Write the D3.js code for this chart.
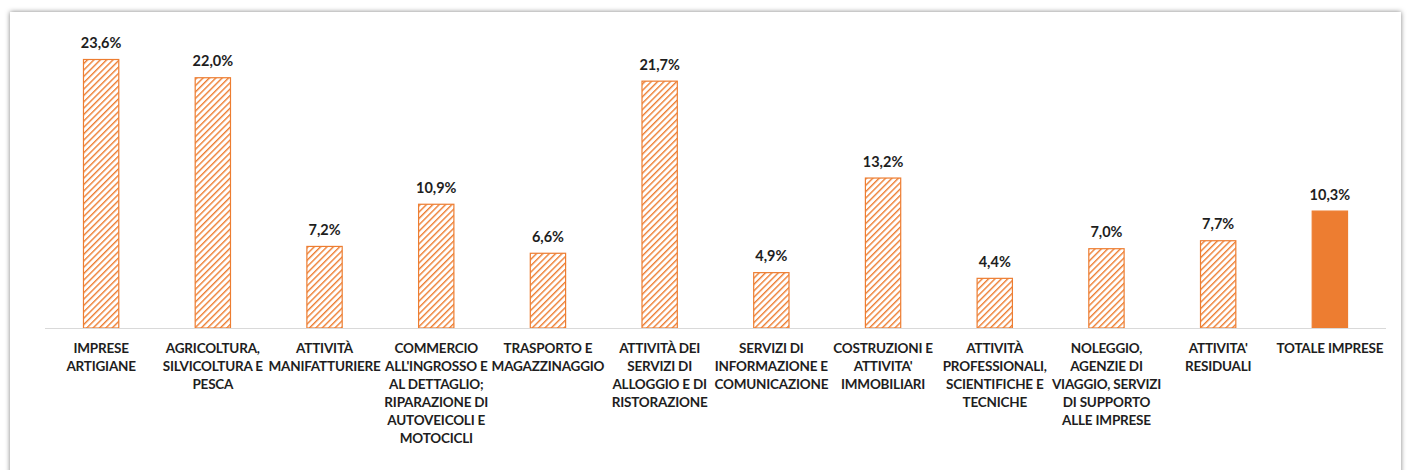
<!DOCTYPE html>
<html>
<head>
<meta charset="utf-8">
<script src="https://cdn.jsdelivr.net/npm/d3@7"></script>
<style>
  body { margin:0; background:#ffffff; }
  svg { display:block; font-family: Lato, "Open Sans", sans-serif; }
</style>
</head>
<body>
<svg id="chart" width="1410" height="470"></svg>
<script>
// data
var categories = [
  "IMPRESE\nARTIGIANE",
  "AGRICOLTURA,\nSILVICOLTURA E\nPESCA",
  "ATTIVITÀ\nMANIFATTURIERE",
  "COMMERCIO\nALL'INGROSSO E\nAL DETTAGLIO;\nRIPARAZIONE DI\nAUTOVEICOLI E\nMOTOCICLI",
  "TRASPORTO E\nMAGAZZINAGGIO",
  "ATTIVITÀ DEI\nSERVIZI DI\nALLOGGIO E DI\nRISTORAZIONE",
  "SERVIZI DI\nINFORMAZIONE E\nCOMUNICAZIONE",
  "COSTRUZIONI E\nATTIVITA'\nIMMOBILIARI",
  "ATTIVITÀ\nPROFESSIONALI,\nSCIENTIFICHE E\nTECNICHE",
  "NOLEGGIO,\nAGENZIE DI\nVIAGGIO, SERVIZI\nDI SUPPORTO\nALLE IMPRESE",
  "ATTIVITA'\nRESIDUALI",
  "TOTALE IMPRESE"
];
var values = [23.6, 22.0, 7.2, 10.9, 6.6, 21.7, 4.9, 13.2, 4.4, 7.0, 7.7, 10.3];
var isTotal = [false, false, false, false, false, false, false, false, false, false, false, true];

var orange = "#ED7D31";
var svg = d3.select("#chart");
var defs = svg.append("defs");

// frame shadow
var f = defs.append("filter").attr("id","shadow").attr("x","-5%").attr("y","-5%").attr("width","110%").attr("height","120%");
f.append("feDropShadow").attr("dx",0).attr("dy",0).attr("stdDeviation",2.5).attr("flood-color","#000").attr("flood-opacity",0.5);

// hatch pattern
var pat = defs.append("pattern").attr("id","hatch")
  .attr("patternUnits","userSpaceOnUse").attr("width",4.5).attr("height",4.5)
  .attr("patternTransform","rotate(45)");
pat.append("rect").attr("width",4.5).attr("height",4.5).attr("fill","#fff");
pat.append("line").attr("x1",0).attr("y1",0).attr("x2",0).attr("y2",4.5)
  .attr("stroke",orange).attr("stroke-width",2.8);

svg.append("rect").attr("x",10).attr("y",12).attr("width",1391).attr("height",480)
  .attr("fill","#fff").attr("filter","url(#shadow)");

var x = d3.scaleBand().domain(d3.range(categories.length)).range([45, 1386]).paddingInner(0.675).paddingOuter(0.34);
var y = d3.scaleLinear().domain([0, 23.6]).range([328, 59]);

var bars = svg.append("g");
bars.selectAll("rect").data(values).join("rect")
  .attr("x", function(d,i){ return x(i) + 0.5; })
  .attr("y", function(d){ return y(d) + 0.5; })
  .attr("width", x.bandwidth() - 1)
  .attr("height", function(d){ return y(0) - y(d) - 0.5; })
  .attr("fill", function(d,i){ return isTotal[i] ? orange : "url(#hatch)"; })
  .attr("stroke", orange).attr("stroke-width", 1.2);

// axis line
svg.append("line").attr("x1",45).attr("x2",1386).attr("y1",328.5).attr("y2",328.5)
  .attr("stroke","#d9d9d9").attr("stroke-width",1.2);

// value labels
svg.append("g").selectAll("text").data(values).join("text")
  .attr("x", function(d,i){ return x(i) + x.bandwidth()/2; })
  .attr("y", function(d){ return y(d) - 11; })
  .attr("text-anchor","middle")
  .attr("font-size",14.5).attr("font-weight",700).attr("fill","#1e1e1e")
  .text(function(d){ return d3.format(".1f")(d).replace(".", ",") + "%"; });

// category labels
var cl = svg.append("g").selectAll("text").data(categories).join("text")
  .attr("text-anchor","middle")
  .attr("font-size",13.5).attr("font-weight",700).attr("fill","#1e1e1e")
  .attr("letter-spacing",-0.2)
  .attr("transform", function(d,i){ return "translate(" + (x(i) + x.bandwidth()/2) + ",353)"; });
cl.selectAll("tspan").data(function(d){ return d.split("\n"); }).join("tspan")
  .attr("x",0).attr("y",function(d,i){ return i*18; })
  .text(function(d){ return d; });
</script>
</body>
</html>
